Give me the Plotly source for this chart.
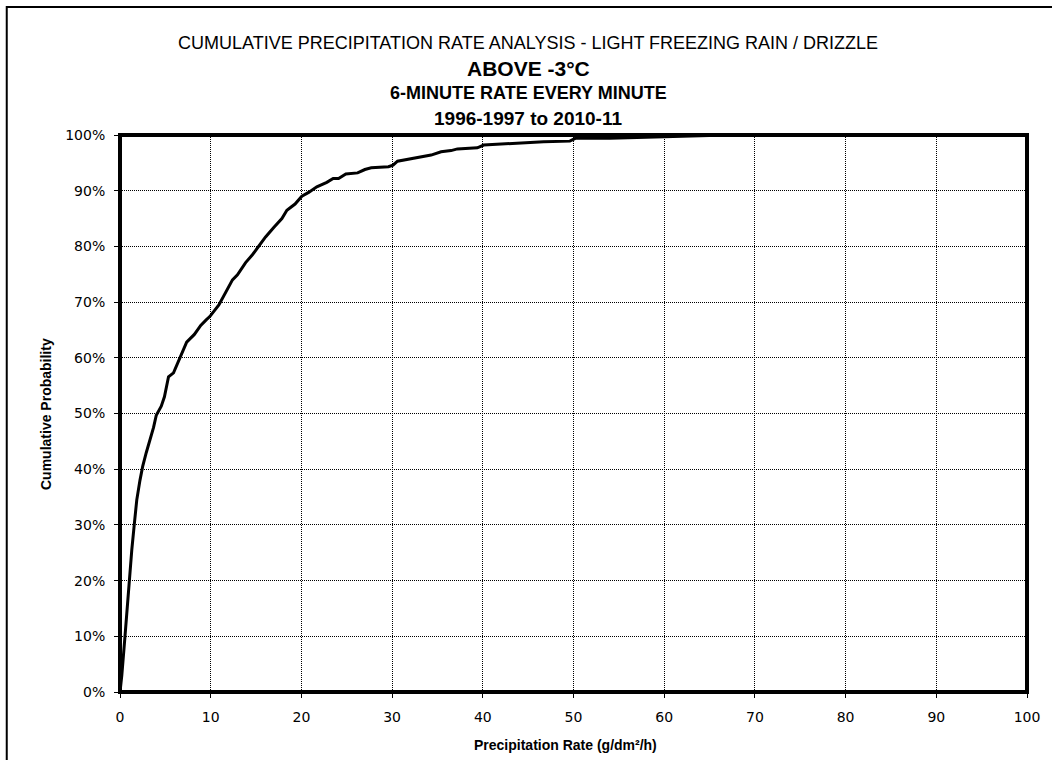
import plotly.graph_objects as go

# Data
rate = [0, 0.2, 0.55, 0.9, 1.3, 1.6, 1.85, 2.2, 2.5, 2.9, 3.3, 3.7, 4.0, 4.55, 4.9,
        5.35, 5.9, 6.55, 7.35, 8.2, 8.9, 9.5, 9.9, 10.9, 11.6, 12.4, 12.95, 13.85,
        14.6, 15.3, 16.05, 16.95, 17.85, 18.4, 19.3, 20.05, 20.8, 21.7, 22.8, 23.5,
        24.1, 24.9, 26.2, 27.0, 27.7, 29.6, 30.1, 30.6, 31.7, 33.2, 34.3, 35.4, 36.5,
        37.2, 39.4, 40.1, 43.0, 46.7, 49.6, 50.2, 54.0, 59.8, 65, 70, 100]
cum_prob = [0, 3, 10, 18, 25.5, 30.5, 34.5, 38, 40.5, 43, 45.2, 47.5, 49.7, 51.3, 53.0,
            56.6, 57.3, 59.9, 62.8, 64.2, 65.8, 66.8, 67.4, 69.5, 71.6, 74.0, 74.9, 77.1,
            78.5, 80.1, 81.7, 83.4, 85.0, 86.5, 87.6, 89.0, 89.7, 90.7, 91.5, 92.2,
            92.2, 93.0, 93.2, 93.8, 94.1, 94.3, 94.6, 95.3, 95.6, 96.1, 96.4, 97.0, 97.2,
            97.5, 97.7, 98.2, 98.5, 98.8, 98.9, 99.4, 99.4, 99.7, 99.9, 100, 100]

x_ticks = [0, 10, 20, 30, 40, 50, 60, 70, 80, 90, 100]
y_ticks = [0, 10, 20, 30, 40, 50, 60, 70, 80, 90, 100]
y_tick_labels = [f"{v}%" for v in y_ticks]

title_lines = [
    # text, font size, bold, vertical centre (px from top)
    ("CUMULATIVE PRECIPITATION RATE ANALYSIS - LIGHT FREEZING RAIN / DRIZZLE", 18, False, 43),
    ("ABOVE -3°C", 21, True, 69),
    ("6-MINUTE RATE EVERY MINUTE", 18, True, 93),
    ("1996-1997 to 2010-11", 19, True, 118),
]
x_title = "Precipitation Rate (g/dm²/h)"
y_title = "Cumulative Probability"

FONT = "Liberation Sans, Arial, sans-serif"
TICKFONT = "DejaVu Sans, Verdana, sans-serif"

W, H = 1052, 760
L, R, T, B = 120, 19, 135, 68
PW, PH = W - L - R, H - T - B


def px_to_paper_x(px):
    return (px - L) / PW


def px_to_paper_y(py):
    return (H - B - py) / PH


fig = go.Figure()
fig.add_trace(go.Scatter(x=rate, y=cum_prob, mode="lines",
                         line=dict(color="black", width=3), showlegend=False))

axis_common = dict(
    showgrid=True, gridcolor="black", gridwidth=1, griddash="1px,1px",
    zeroline=False, showline=False,
    ticks="outside", ticklen=5, tickcolor="black", tickwidth=1,
    tickfont=dict(family=TICKFONT, size=14, color="black"),
)
fig.update_xaxes(range=[0, 100], tickmode="array", tickvals=x_ticks,
                 ticklabelstandoff=7, **axis_common)
fig.update_yaxes(range=[0, 100], tickmode="array", tickvals=y_ticks,
                 ticktext=y_tick_labels, ticklabelstandoff=6, **axis_common)

shapes = [
    # plot area border
    dict(type="rect", xref="paper", yref="paper", x0=0, y0=0, x1=1, y1=1,
         line=dict(color="black", width=4), fillcolor="rgba(0,0,0,0)", layer="above"),
    # outer chart frame (extends past right and bottom edges)
    dict(type="rect", xref="paper", yref="paper",
         x0=px_to_paper_x(6), y0=px_to_paper_y(800),
         x1=px_to_paper_x(1090), y1=px_to_paper_y(7),
         line=dict(color="black", width=2), fillcolor="rgba(0,0,0,0)"),
]

title_cx = px_to_paper_x(531)
annotations = []
for text, size, bold, ypx in title_lines:
    annotations.append(dict(
        text=f"<b>{text}</b>" if bold else text, x=title_cx, y=px_to_paper_y(ypx),
        xref="paper", yref="paper", xanchor="center", yanchor="middle",
        showarrow=False, font=dict(family=FONT, size=size, color="black")))
annotations.append(dict(
    text=f"<b>{x_title}</b>", x=px_to_paper_x(568), y=px_to_paper_y(745),
    xref="paper", yref="paper",
    xanchor="center", yanchor="middle", showarrow=False,
    font=dict(family=FONT, size=14, color="black")))
annotations.append(dict(
    text=f"<b>{y_title}</b>", x=px_to_paper_x(45), y=0.5, xref="paper", yref="paper",
    xanchor="center", yanchor="middle", textangle=-90, showarrow=False,
    font=dict(family=FONT, size=14, color="black")))

fig.update_layout(
    width=W, height=H,
    margin=dict(l=L, r=R, t=T, b=B),
    paper_bgcolor="white", plot_bgcolor="white",
    shapes=shapes, annotations=annotations,
    font=dict(family=FONT, color="black"),
)

fig.write_html(
    "out.html",
    config={"displayModeBar": False},
    post_script="document.body.style.margin='0px';document.body.style.overflow='hidden';",
)
